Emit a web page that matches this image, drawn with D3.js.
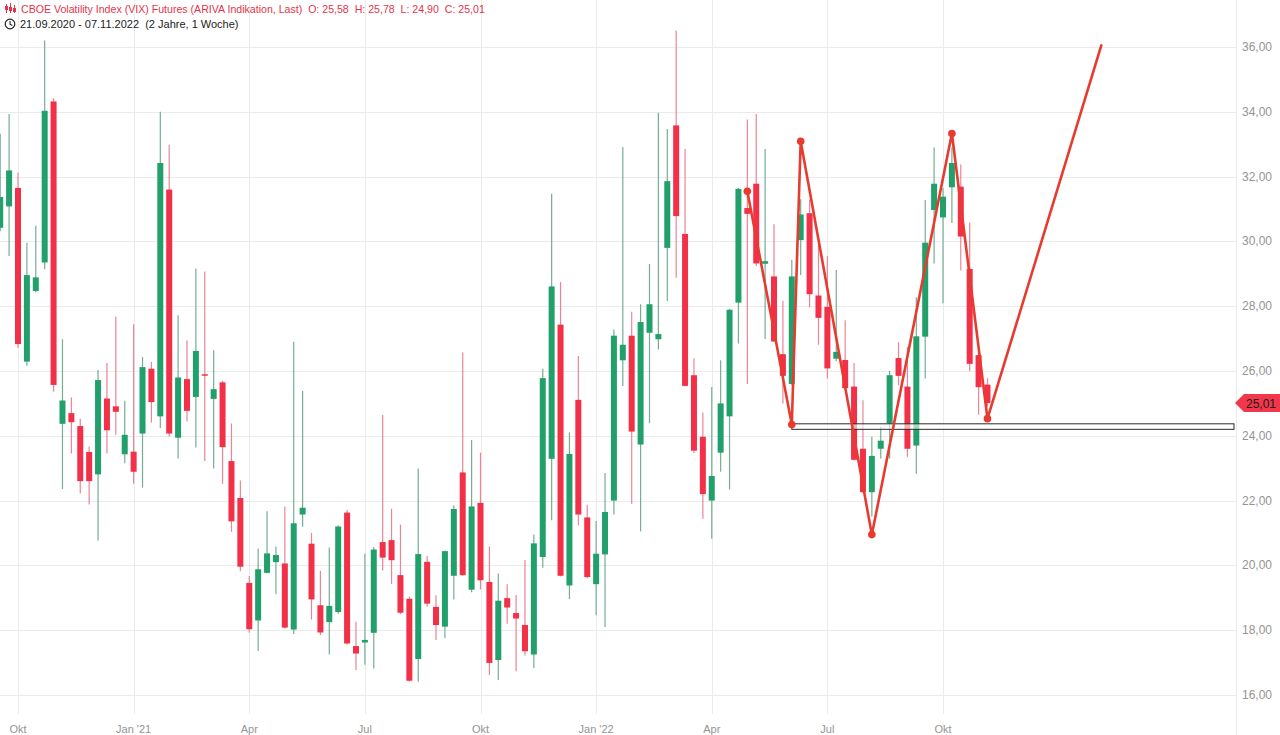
<!DOCTYPE html>
<html>
<head>
<meta charset="utf-8">
<script src="https://cdn.jsdelivr.net/npm/d3@7/dist/d3.min.js"></script>
<style>
  html, body { margin: 0; padding: 0; background: #ffffff; }
  svg { display: block; }
  text { font-family: "Liberation Sans", Arial, Helvetica, sans-serif; }
</style>
</head>
<body>
<svg id="chart" width="1280" height="735"></svg>
<script>
// ---------- DATA ----------
// weekly candles starting 21.09.2020 (index 0) up to 07.11.2022 (index 111)
const opens = [30.42,31.08,31.65,26.29,28.47,29.35,34.32,24.37,24.70,24.30,23.50,22.81,25.15,24.91,23.43,23.51,24.07,26.07,24.60,31.60,
23.94,25.75,25.20,25.90,25.14,25.65,23.22,22.08,19.46,18.30,19.77,20.10,20.06,18.02,21.57,20.67,18.77,18.25,18.56,21.63,
17.51,17.62,17.92,20.72,20.78,19.70,18.97,17.11,20.11,18.72,18.11,19.68,22.87,19.25,21.93,19.49,17.08,18.99,18.53,18.16,
17.25,20.26,23.29,27.43,19.38,25.11,21.48,19.42,20.34,22.00,26.33,27.09,23.73,27.18,26.98,29.80,33.58,30.23,25.87,23.97,
22.00,23.48,24.60,28.11,31.03,31.78,29.31,28.92,26.52,25.60,30.04,30.87,28.33,27.98,26.38,26.34,25.52,23.60,22.26,23.60,
24.38,26.40,25.52,23.70,27.06,30.97,30.74,31.67,31.69,29.15,26.49,25.58];
const highs = [33.32,33.93,32.13,29.96,30.48,36.20,34.42,26.98,25.18,24.53,23.67,26.03,26.25,27.68,25.08,27.44,26.43,26.28,34.00,32.98,
27.72,26.95,29.16,29.07,26.64,25.70,24.38,22.62,19.67,20.52,21.67,20.58,21.82,26.90,25.38,21.00,19.83,20.55,21.24,21.72,
18.26,20.37,20.57,24.64,21.75,21.26,19.03,22.99,20.29,19.08,20.45,21.86,26.57,23.87,23.48,20.58,19.75,19.42,19.09,20.17,
20.95,26.07,31.47,28.75,24.10,26.46,21.87,21.37,22.85,27.28,32.91,27.83,28.06,29.30,33.97,33.47,36.51,32.85,26.39,24.72,
25.51,26.33,27.92,31.65,33.76,33.93,32.85,30.53,28.17,29.43,31.30,31.29,29.89,29.55,29.12,27.57,26.25,25.10,23.97,24.28,
26.00,26.89,26.74,28.28,31.28,32.90,31.65,32.90,32.37,30.58,26.55,25.78];
const lows = [30.31,29.55,26.72,26.16,28.42,29.14,25.36,22.36,23.45,22.22,21.88,20.77,23.45,24.03,23.15,22.52,22.40,24.41,24.24,23.97,
23.30,24.44,23.64,23.22,22.99,22.52,21.04,19.82,17.92,17.36,19.75,19.11,18.05,17.88,21.19,18.33,17.85,17.25,18.51,17.56,
16.77,16.93,16.82,19.84,19.43,18.50,16.41,16.41,18.72,17.70,17.76,18.95,19.68,19.17,19.26,16.62,16.46,18.20,16.73,17.22,
16.83,19.93,21.39,19.66,18.96,21.24,19.60,18.46,18.10,21.57,25.54,21.90,21.05,24.39,26.66,28.16,28.88,25.52,23.47,21.44,
20.82,22.89,22.34,26.85,25.60,29.24,26.99,26.90,25.00,25.56,28.96,27.96,26.81,25.77,26.30,25.45,23.24,22.24,21.51,23.30,
23.30,25.56,23.35,22.83,25.77,29.32,28.09,30.57,29.10,26.00,24.65,24.90];
const closes = [31.37,32.19,26.83,28.96,28.89,34.03,25.57,25.09,24.42,22.60,22.60,25.72,24.17,24.74,24.03,22.89,26.12,25.04,32.42,24.07,
25.80,24.77,26.62,25.86,25.44,23.65,21.36,19.96,18.03,19.88,20.37,20.32,18.08,21.30,21.78,18.95,17.93,18.75,21.20,17.59,
17.28,17.70,20.49,20.24,20.16,18.54,16.44,20.35,18.82,18.16,20.44,21.74,19.70,21.82,19.54,16.99,18.91,18.70,18.36,17.35,
20.68,25.78,28.61,19.68,23.44,21.57,19.64,20.36,21.65,27.09,26.81,24.13,27.51,28.06,27.14,31.86,30.78,25.54,23.54,22.20,
22.76,25.00,27.89,31.62,30.85,29.32,29.39,26.91,25.85,28.92,30.83,28.37,27.64,26.08,26.59,25.47,23.26,22.26,23.38,23.85,
25.87,25.85,23.60,27.07,29.96,31.78,31.38,32.42,30.15,26.22,25.50,25.01];

// x-axis ticks (candle index of first week of the month) and labels
const tickIndex  = [2, 15, 28, 41, 54, 67, 80, 93, 106];
const tickLabels = ["Okt", "Jan '21", "Apr", "Jul", "Okt", "Jan '22", "Apr", "Jul", "Okt"];
// y-axis ticks
const yTicks = [16, 18, 20, 22, 24, 26, 28, 30, 32, 34, 36];

// drawn zigzag annotation (candle index, price)
const zigIndex = [84, 89, 90, 98, 107, 111, 123.8];
const zigValue = [31.55, 24.35, 33.09, 20.95, 33.33, 24.53, 36.05];
// horizontal zone
const zoneStart = 89, zoneTop = 24.37, zoneBottom = 24.20;
const lastPrice = 25.01;

const headerTitle = "CBOE Volatility Index (VIX) Futures (ARIVA Indikation, Last)";
const headerOHLC = "O: 25,58  H: 25,78  L: 24,90  C: 25,01";
const headerRange = "21.09.2020 - 07.11.2022  (2 Jahre, 1 Woche)";

// ---------- CHART ----------
const W = 1280, H = 735, plotRight = 1236;
const svg = d3.select("#chart");
const fmt = v => v.toFixed(2).replace(".", ",");

const x = d3.scaleLinear().domain([2, 106]).range([18, 943]);
const y = d3.scaleLinear().domain([16, 36]).range([695, 47]);

const GREEN = "#22a06b", RED = "#f23148";
const GREEN_W = "#74ad94", RED_W = "#e98597";
const GRID = "#ebebeb";

svg.append("rect").attr("width", W).attr("height", H).attr("fill", "#fff");

// gridlines
svg.append("g").selectAll("line").data(yTicks).join("line")
  .attr("x1", 0).attr("x2", plotRight)
  .attr("y1", d => Math.round(y(d)) + 0.5).attr("y2", d => Math.round(y(d)) + 0.5)
  .attr("stroke", GRID).attr("stroke-width", 1);
svg.append("g").selectAll("line").data(tickIndex).join("line")
  .attr("x1", d => Math.round(x(d)) + 0.5).attr("x2", d => Math.round(x(d)) + 0.5)
  .attr("y1", 0).attr("y2", 714)
  .attr("stroke", GRID).attr("stroke-width", 1);
svg.append("line").attr("x1", plotRight + 0.5).attr("x2", plotRight + 0.5)
  .attr("y1", 0).attr("y2", H).attr("stroke", GRID);

// y labels
svg.append("g").selectAll("text").data(yTicks).join("text")
  .attr("x", 1242).attr("y", d => y(d) + 4)
  .attr("font-size", 12).attr("fill", "#949494")
  .text(d => fmt(d));

// x labels
svg.append("g").selectAll("text").data(tickIndex).join("text")
  .attr("x", d => x(d)).attr("y", 733)
  .attr("text-anchor", "middle").attr("font-size", 11).attr("fill", "#949494")
  .text((d, i) => tickLabels[i]);

// candles
svg.append("clipPath").attr("id", "plotclip").append("rect")
  .attr("x", 0).attr("y", 0).attr("width", plotRight).attr("height", 715);
const gC = svg.append("g").attr("clip-path", "url(#plotclip)");
const idx = d3.range(opens.length);
gC.selectAll("line.wick").data(idx).join("line")
  .attr("class", "wick")
  .attr("x1", i => x(i)).attr("x2", i => x(i))
  .attr("y1", i => y(highs[i])).attr("y2", i => y(lows[i]))
  .attr("stroke", i => closes[i] >= opens[i] ? GREEN_W : RED_W)
  .attr("stroke-width", 1.2);
gC.selectAll("rect.body").data(idx).join("rect")
  .attr("class", "body")
  .attr("x", i => x(i) - 3).attr("width", 6)
  .attr("y", i => y(Math.max(opens[i], closes[i])))
  .attr("height", i => Math.max(1.5, Math.abs(y(opens[i]) - y(closes[i]))))
  .attr("fill", i => closes[i] >= opens[i] ? GREEN : RED);

// zone rectangle
gC.append("rect")
  .attr("x", x(zoneStart)).attr("y", y(zoneTop))
  .attr("width", plotRight - 2 - x(zoneStart)).attr("height", y(zoneBottom) - y(zoneTop))
  .attr("fill", "rgba(255,255,255,0.6)").attr("stroke", "#2a2a2a").attr("stroke-width", 1);

// zigzag
const zig = zigIndex.map((d, i) => [x(d), y(zigValue[i])]);
gC.append("path").attr("d", d3.line()(zig))
  .attr("fill", "none").attr("stroke", "#e63b2e").attr("stroke-width", 2.6)
  .attr("stroke-linejoin", "round").attr("stroke-linecap", "round");
gC.selectAll("circle").data(zig.slice(0, 6)).join("circle")
  .attr("cx", d => d[0]).attr("cy", d => d[1]).attr("r", 3.8).attr("fill", "#e63b2e");

// last price tag
const ty = y(lastPrice);
svg.append("path")
  .attr("d", `M${plotRight - 1},${ty} L${plotRight + 8},${ty - 9} L${W},${ty - 9} L${W},${ty + 9} L${plotRight + 8},${ty + 9} Z`)
  .attr("fill", "#f2364b");
svg.append("text").attr("x", 1261).attr("y", ty + 4.5)
  .attr("text-anchor", "middle").attr("font-size", 12).attr("fill", "#1a1a1a")
  .text(fmt(lastPrice));

// header
const hd = svg.append("g");
// small candle icon
const ic = hd.append("g").attr("stroke", "#e4344c").attr("stroke-width", 1);
[[6, 4, 13, 6, 10], [10, 3, 13, 7, 11], [14, 5, 13, 8, 12]].forEach(a => {
  ic.append("line").attr("x1", a[0] + 0.5).attr("x2", a[0] + 0.5).attr("y1", a[1]).attr("y2", a[2]);
  ic.append("rect").attr("x", a[0] - 1).attr("y", a[3]).attr("width", 3).attr("height", a[4] - a[3])
    .attr("fill", "#e4344c").attr("stroke", "none");
});
hd.append("text").attr("x", 21).attr("y", 12.5).attr("font-size", 10.6).attr("fill", "#e4344c")
  .attr("xml:space", "preserve").style("white-space", "pre")
  .text(headerTitle + "  " + headerOHLC);
hd.append("circle").attr("cx", 10).attr("cy", 24).attr("r", 4.8)
  .attr("fill", "none").attr("stroke", "#222").attr("stroke-width", 1.2);
hd.append("path").attr("d", "M10,21 L10,24.3 L12.3,25.6").attr("fill", "none")
  .attr("stroke", "#222").attr("stroke-width", 1.1);
hd.append("text").attr("x", 20).attr("y", 28).attr("font-size", 11).attr("fill", "#222")
  .attr("xml:space", "preserve").style("white-space", "pre")
  .text(headerRange);
</script>
</body>
</html>
